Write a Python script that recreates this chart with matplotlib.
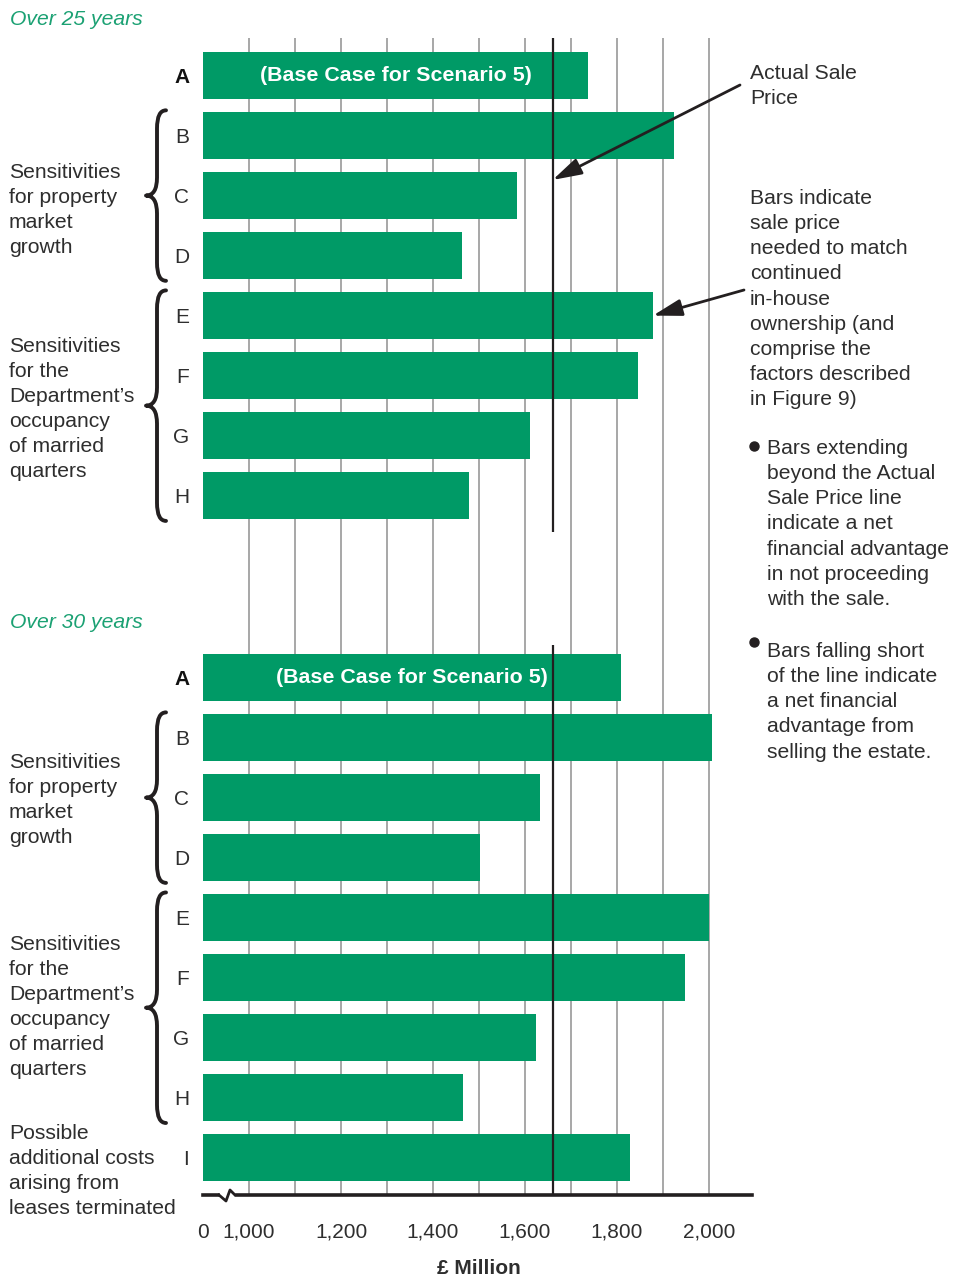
import matplotlib
matplotlib.use('Agg')
import matplotlib.pyplot as plt
from matplotlib.lines import Line2D
from matplotlib.path import Path
from matplotlib.patches import PathPatch
import matplotlib.transforms as mtransforms

plt.rcParams['font.family'] = ['Liberation Sans', 'DejaVu Sans']

# ---------------- data ----------------
categories_25 = ['A', 'B', 'C', 'D', 'E', 'F', 'G', 'H']
values_25 = [1737, 1924, 1583, 1463, 1878, 1846, 1611, 1478]
categories_30 = ['A', 'B', 'C', 'D', 'E', 'F', 'G', 'H', 'I']
values_30 = [1809, 2007, 1633, 1502, 2000, 1948, 1624, 1465, 1828]
actual_sale_price = 1660
axis_start = 900          # shown as "0" with an axis break
tick_values = [900, 1000, 1200, 1400, 1600, 1800, 2000]
tick_labels = ['0', '1,000', '1,200', '1,400', '1,600', '1,800', '2,000']
grid_values = [1000, 1100, 1200, 1300, 1400, 1500, 1600, 1700, 1800, 1900, 2000]
base_case_label = '(Base Case for Scenario 5)'

# ---------------- style ----------------
W, H = 968, 1280
BAR = '#009a66'
GREEN_TXT = '#1ba173'
INK = '#231f20'
TXT = '#2e2e2e'
FS = 15.2
LS = 1.41
LS_LEFT = 1.40

fig = plt.figure(figsize=(W / 100, H / 100), dpi=100)


def F(x, y):
    return x / W, 1 - y / H


ax = fig.add_axes([203 / W, 85 / H, 549 / W, (1195 - 38) / H])
ax.set_xlim(axis_start, axis_start + 549 / 0.46)
ax.set_ylim(18.65, -0.625)

rows_25 = list(range(len(categories_25)))
rows_30 = [10.03 + i for i in range(len(categories_30))]

# gridlines
ax.vlines(grid_values, -0.625, 18.65, color='#a0a0a0', lw=1.3, zorder=0)

# bars
ax.barh(rows_25, [v - axis_start for v in values_25], left=axis_start,
        height=0.78, color=BAR, zorder=2)
ax.barh(rows_30, [v - axis_start for v in values_30], left=axis_start,
        height=0.78, color=BAR, zorder=2)

# base-case labels
ax.text((axis_start + values_25[0]) / 2, rows_25[0], base_case_label,
        color='white', fontsize=15.4, fontweight='bold', ha='center', va='center', zorder=4)
ax.text((axis_start + values_30[0]) / 2, rows_30[0], base_case_label,
        color='white', fontsize=15.4, fontweight='bold', ha='center', va='center', zorder=4)

# actual sale price line (two segments)
ax.vlines(actual_sale_price, -0.625, 7.6, color=INK, lw=1.6, zorder=5)
ax.vlines(actual_sale_price, 9.49, 18.65, color=INK, lw=1.6, zorder=5)

# axes styling
for s in ['top', 'right', 'left']:
    ax.spines[s].set_visible(False)
ax.spines['bottom'].set_linewidth(2.6)
ax.spines['bottom'].set_color(INK)
ax.spines['bottom'].set_zorder(6)
ax.set_xticks(tick_values)
ax.set_xticklabels(tick_labels, fontsize=15, color=TXT)
ax.tick_params(axis='x', length=0, pad=20)
ax.set_yticks(rows_25 + rows_30)
ax.set_yticklabels(categories_25 + categories_30, fontsize=15, color=TXT)
ax.tick_params(axis='y', length=0, pad=10)
for lbl in ax.get_yticklabels():
    if lbl.get_text() == 'A':
        lbl.set_fontweight('bold')
        lbl.set_color('#111111')

# axis break
fig.add_artist(plt.Rectangle(F(220, 1199), 14 / W, 8 / H, color='white', zorder=10,
                             transform=fig.transFigure))
xs, ys = zip(*[F(219, 1195), F(226, 1201), F(230, 1190), F(235, 1195)])
fig.add_artist(Line2D(xs, ys, color=INK, lw=2.0, transform=fig.transFigure, zorder=11))

# x label
fig.text(*F(479, 1268), '£ Million', fontsize=15, fontweight='bold', color=TXT,
         ha='center', va='center')

# section titles
fig.text(*F(10, 10), 'Over 25 years', fontsize=FS, style='italic', color=GREEN_TXT, va='top')
fig.text(*F(10, 613), 'Over 30 years', fontsize=FS, style='italic', color=GREEN_TXT, va='top')

# left group labels
left_groups = [
    (163, 'Sensitivities\nfor property\nmarket\ngrowth'),
    (337, "Sensitivities\nfor the\nDepartment’s\noccupancy\nof married\nquarters"),
    (753, 'Sensitivities\nfor property\nmarket\ngrowth'),
    (935, "Sensitivities\nfor the\nDepartment’s\noccupancy\nof married\nquarters"),
    (1124, 'Possible\nadditional costs\narising from\nleases terminated'),
]
for y, t in left_groups:
    fig.text(*F(9, y), t, fontsize=FS, color=TXT, va='top', ha='left', linespacing=LS_LEFT)

# braces
btrans = mtransforms.blended_transform_factory(fig.transFigure, ax.transData)


def brace(r0, r1):
    xb, xt, xe = 157 / W, 146 / W, 166 / W
    y0, y1 = r0 - 0.42, r1 + 0.42
    ym = (y0 + y1) / 2
    r = 0.3
    verts = [(xe, y0), (xb, y0), (xb, y0 + r), (xb, ym - r), (xb, ym), (xt, ym),
             (xb, ym), (xb, ym + r), (xb, y1 - r), (xb, y1), (xe, y1)]
    codes = [Path.MOVETO, Path.CURVE3, Path.CURVE3, Path.LINETO, Path.CURVE3, Path.CURVE3,
             Path.CURVE3, Path.CURVE3, Path.LINETO, Path.CURVE3, Path.CURVE3]
    p = PathPatch(Path(verts, codes), transform=btrans, fill=False, lw=2.8,
                  edgecolor=INK, capstyle='round', joinstyle='round', clip_on=False)
    fig.add_artist(p)


brace(rows_25[1], rows_25[3])
brace(rows_25[4], rows_25[7])
brace(rows_30[1], rows_30[3])
brace(rows_30[4], rows_30[7])

# right annotations
fig.text(*F(750, 64), 'Actual Sale\nPrice', fontsize=FS, color=TXT, va='top', linespacing=LS)
fig.text(*F(750, 189), 'Bars indicate\nsale price\nneeded to match\ncontinued\nin-house\n'
         'ownership (and\ncomprise the\nfactors described\nin Figure 9)',
         fontsize=FS, color=TXT, va='top', linespacing=LS)
fig.text(*F(767, 439), 'Bars extending\nbeyond the Actual\nSale Price line\nindicate a net\n'
         'financial advantage\nin not proceeding\nwith the sale.',
         fontsize=FS, color=TXT, va='top', linespacing=LS)
fig.text(*F(767, 642), 'Bars falling short\nof the line indicate\na net financial\n'
         'advantage from\nselling the estate.',
         fontsize=FS, color=TXT, va='top', linespacing=LS)
for by in (446, 642):
    fig.add_artist(Line2D([754 / W], [1 - by / H], marker='o', ms=6.5, color=INK,
                          transform=fig.transFigure))

# arrows
ap = dict(arrowstyle='-|>,head_length=1.1,head_width=0.32', color=INK, lw=2,
          mutation_scale=16, shrinkA=0, shrinkB=0)
ax.annotate('', xy=(actual_sale_price, 1.74), xycoords='data',
            xytext=F(740, 85), textcoords='figure fraction', arrowprops=ap, zorder=8,
            annotation_clip=False)
ax.annotate('', xy=(values_25[4], rows_25[4]), xycoords='data',
            xytext=F(744, 290), textcoords='figure fraction', arrowprops=ap, zorder=8,
            annotation_clip=False)

fig.savefig('out.png', dpi=100)
